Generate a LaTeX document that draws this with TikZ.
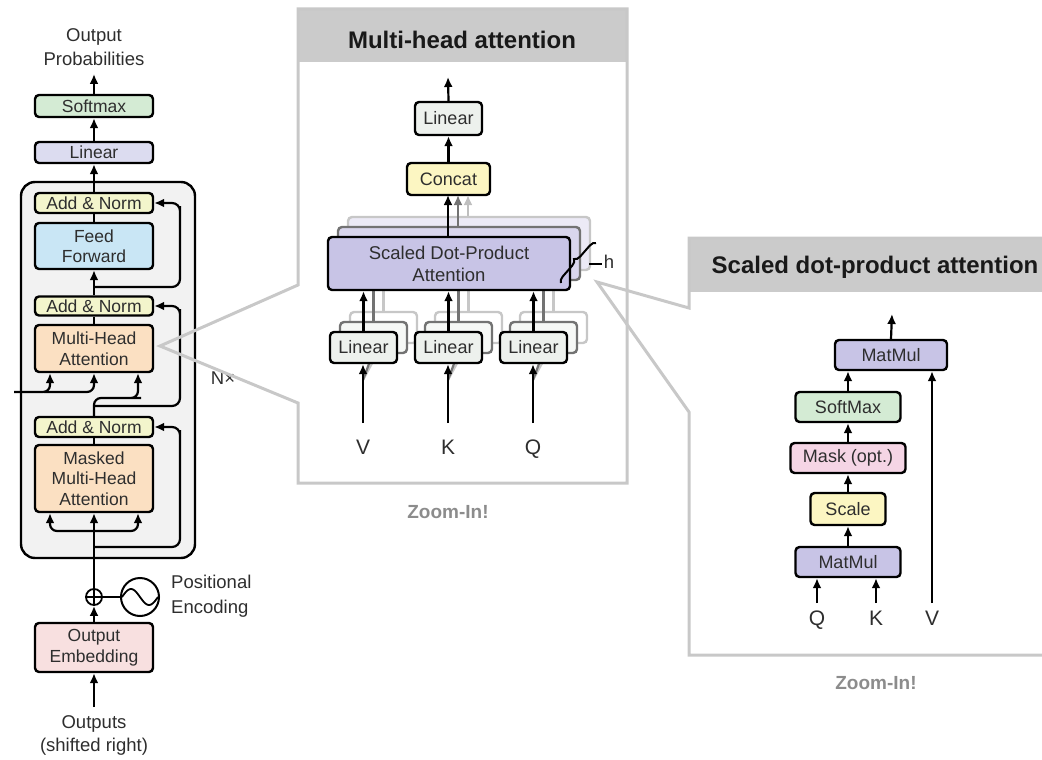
\documentclass[tikz,border=0pt]{standalone}
\usepackage{fontspec}
\setmainfont{Liberation Sans}
\usetikzlibrary{arrows.meta,calc,decorations.pathreplacing}

\definecolor{txt}{HTML}{2E2E2E}
\definecolor{smgreen}{HTML}{D4EBD4}
\definecolor{linlav}{HTML}{DCDCF0}
\definecolor{anyellow}{HTML}{F3F5CC}
\definecolor{ffblue}{HTML}{C9E6F5}
\definecolor{attpeach}{HTML}{FBE0C2}
\definecolor{embpink}{HTML}{F8E0E0}
\definecolor{sdpalav}{HTML}{C8C4E6}
\definecolor{linmint}{HTML}{EDF1ED}
\definecolor{catyellow}{HTML}{FCF6C2}
\definecolor{maskpink}{HTML}{F5D5E5}
\definecolor{stackbg}{HTML}{F2F2F2}
\definecolor{framegray}{HTML}{C8C8C8}
\definecolor{headgray}{HTML}{CBCBCB}
\definecolor{zoomgray}{HTML}{8C8C8C}

\tikzset{
  blk/.style={draw=black, line width=2.4pt, rounded corners=4pt, inner sep=0pt,
    align=center, text=txt, font=\fontsize{17.5}{20.5}\selectfont},
  blkm/.style={blk, font=\fontsize{18}{21}\selectfont},
  arr/.style={-{Latex[length=10pt,width=9pt]}, line width=2.2pt},
  ln/.style={line width=2.2pt},
  lbl/.style={text=txt, inner sep=0pt, align=center, font=\fontsize{18.5}{24}\selectfont},
  qkv/.style={text=txt, inner sep=0pt, text height=15pt, text depth=0pt, font=\fontsize{21}{24}\selectfont},
  zframe/.style={draw=framegray, line width=3pt, line join=miter},
  ttl/.style={text=black!90, inner sep=0pt, font=\fontsize{24}{28}\selectfont\bfseries},
  zoomlbl/.style={text=zoomgray, inner sep=0pt, font=\fontsize{19}{22}\selectfont\bfseries},
}

\begin{document}
\begin{tikzpicture}[x=1pt,y=-1pt]
\useasboundingbox (0,0) rectangle (1042,760);

% ---------------- decoder column ----------------
\node[draw=black, line width=2.4pt, fill=stackbg, rounded corners=14pt,
      minimum width=174pt, minimum height=376pt, inner sep=0pt] (dec) at (108,370) {};

\node[lbl] (outp) at (94,47) {Output\\Probabilities};
\coordinate (outtip) at (94,74);
\node[blk, fill=smgreen, minimum width=118pt, minimum height=22pt] (sm) at (94,106) {Softmax};
\node[blk, fill=linlav, minimum width=118pt, minimum height=21pt] (lin) at (94,152.5) {Linear};

\node[blk, fill=anyellow, minimum width=118pt, minimum height=20pt] (an1) at (94,203) {Add \& Norm};
\node[blk, fill=ffblue, minimum width=118pt, minimum height=46pt] (ff) at (94,246) {Feed\\Forward};
\node[blk, fill=anyellow, minimum width=118pt, minimum height=19pt] (an2) at (94,306) {Add \& Norm};
\node[blk, fill=attpeach, minimum width=118pt, minimum height=47pt] (mha) at (94,348.5) {Multi-Head\\Attention};
\node[blk, fill=anyellow, minimum width=118pt, minimum height=20pt] (an3) at (94,427) {Add \& Norm};
\node[blk, fill=attpeach, minimum width=118pt, minimum height=67pt] (mmha) at (94,478.5) {Masked\\Multi-Head\\Attention};

\node[circle, draw=black, line width=1.8pt, minimum size=16pt, inner sep=0pt] (plus) at (94,597) {};
\node[circle, draw=black, line width=2pt, minimum size=38pt, inner sep=0pt] (pe) at (140,597) {};
\node[blk, fill=embpink, minimum width=118pt, minimum height=49pt] (emb) at (94,647.5) {Output\\Embedding};
\node[lbl, anchor=west, align=left, font=\fontsize{18.5}{25}\selectfont] (pelbl) at (171,596) {Positional\\Encoding};
\node[lbl, font=\fontsize{18.5}{23}\selectfont] (outs) at (94,735) {Outputs\\(shifted right)};
\coordinate (outsin) at (94,707);
\node[lbl] (nx) at (223,378) {N×};

% plus sign and sine wave
\draw[line width=1.6pt] (plus.north) -- (plus.south) (plus.west) -- (plus.east);
\draw[line width=1.8pt] plot[domain=-18:18, samples=40] ({140+\x}, {597+8*sin(\x*10)});
\draw[ln] (plus.east) -- (pe.west);

% main data path
\draw[arr] (outsin) -- (emb.south);
\draw[arr] (emb.north) -- (plus.south);
\draw[arr] (plus.north) -- (mmha.south);
\draw[ln] (mmha.north) -- (an3.south);
\draw[ln] (mha.north) -- (an2.south);
\draw[arr] (an2.north) -- (ff.south);
\draw[ln] (ff.north) -- (an1.south);
\draw[arr] (an1.north) -- (lin.south);
\draw[arr] (lin.north) -- (sm.south);
\draw[arr] (sm.north) -- (outtip);

% masked attention inputs
\coordinate (msplit) at (94,531);
\draw[arr, rounded corners=7pt] (msplit) -| ($(mmha.south)+(-44,0)$);
\draw[arr, rounded corners=7pt] (msplit) -| ($(mmha.south)+(44,0)$);

% attention inputs: encoder (left) and decoder (right)
\coordinate (encin) at (14,392);
\draw[arr, rounded corners=7pt] (encin) -| ($(mha.south)+(-44,0)$);
\draw[arr, rounded corners=7pt] ($(encin)+(30,0)$) -| (mha.south);
\draw[arr, rounded corners=7pt] (an3.north) |- (134,398) -| ($(mha.south)+(44,0)$);

% residual connections
\coordinate (r1) at (94,287);
\coordinate (r2) at (94,406);
\coordinate (r3) at (94,547);
\draw[arr, rounded corners=8pt] (r1) -| (180,214) |- (an1.east);
\draw[arr, rounded corners=8pt] (r2) -| (180,317) |- (an2.east);
\draw[arr, rounded corners=8pt] (r3) -| (180,438) |- (an3.east);

% ---------------- multi-head attention panel ----------------
\fill[headgray] (298,9) rectangle (627,62);
\coordinate (zoomA) at (160,346);
\draw[zframe] (298,9) -- (627,9) -- (627,483) -- (298,483) -- (298,403) -- (zoomA) -- (298,285) -- cycle;
\node[ttl] (mhtitle) at (462,40) {Multi-head attention};
\node[zoomlbl] (zoom1) at (448,512) {Zoom-In!};

\coordinate (vsplit) at (363,380);
\coordinate (ksplit) at (448,380);
\coordinate (qsplit) at (533,380);

% stacked copies of the heads
\foreach \k/\dc/\fs/\fl in {2/black!22/sdpalav!35/white, 1/black!55/sdpalav!70/linmint!50}{
  \node[blk, draw=\dc, fill=\fs, minimum width=242pt, minimum height=53pt] (sd\k) at ({449+10*\k},{263.5-10*\k}) {};
  \foreach \n/\x in {v/363, k/448, q/533}{
    \draw[ln, draw=\dc] (\n split) -- ({\x+10*\k},{363-10*\k});
    \node[blk, draw=\dc, fill=\fl, minimum width=67pt, minimum height=31pt] (l\n\k) at ({\x+0.5+10*\k},{347.5-10*\k}) {};
    \draw[ln, draw=\dc] (l\n\k.north) -- (l\n\k.north |- sd\k.south);
  }
}

% front head
\node[blk, fill=sdpalav, minimum width=242pt, minimum height=53pt, font=\fontsize{18.5}{22}\selectfont] (sd0) at (449,263.5) {Scaled Dot-Product\\Attention};
\node[blkm, fill=linmint, minimum width=67pt, minimum height=31pt] (lv0) at (363.5,347.5) {Linear};
\node[blkm, fill=linmint, minimum width=67pt, minimum height=31pt] (lk0) at (448.5,347.5) {Linear};
\node[blkm, fill=linmint, minimum width=67pt, minimum height=31pt] (lq0) at (533.5,347.5) {Linear};
\draw[arr] (lv0.north) -- (lv0.north |- sd0.south);
\draw[arr] (lk0.north) -- (lk0.north |- sd0.south);
\draw[arr] (lq0.north) -- (lq0.north |- sd0.south);

\coordinate (vin) at (363,423);
\coordinate (kin) at (448,423);
\coordinate (qin) at (533,423);
\draw[arr] (vin) -- (vin |- lv0.south);
\draw[arr] (kin) -- (kin |- lk0.south);
\draw[arr] (qin) -- (qin |- lq0.south);
\node[qkv] (vl) at (363,447) {V};
\node[qkv] (kl) at (448,447) {K};
\node[qkv] (ql) at (533,447) {Q};

\node[blkm, fill=catyellow, minimum width=83pt, minimum height=32pt] (cat) at (448.5,179) {Concat};
\node[blkm, fill=linmint, minimum width=67pt, minimum height=33pt] (lin2) at (448.5,118.5) {Linear};
\coordinate (mhout) at (448,77);
\coordinate (c0) at (448,195);
\coordinate (c1) at (458,195);
\coordinate (c2) at (468,195);
\draw[arr, draw=black!25] (c2 |- sd2.north) -- (c2);
\draw[arr, draw=black!55] (c1 |- sd1.north) -- (c1);
\draw[arr] (c0 |- sd0.north) -- (c0);
\draw[arr] (cat.north) -- (lin2.south);
\draw[arr] (lin2.north) -- (mhout);

% number of heads
\draw[line width=2pt, decorate, decoration={brace, amplitude=6pt}] (561,283) -- (596,243);
\draw[line width=1.5pt] (589,264) -- (602,264);
\node[lbl] (hl) at (609,262) {h};

% ---------------- scaled dot-product attention panel ----------------
\fill[headgray] (689,238) rectangle (1042,292);
\coordinate (zoomB) at (597,282);
\draw[zframe] (1042,238) -- (689,238) -- (689,308) -- (zoomB) -- (689,412) -- (689,655) -- (1042,655);
\node[ttl] (sdtitle) at (875,267) {Scaled dot-product attention};
\node[zoomlbl] (zoom2) at (876,683) {Zoom-In!};

\node[blkm, fill=sdpalav, minimum width=112pt, minimum height=30pt] (mm2) at (891,355) {MatMul};
\node[blkm, fill=smgreen, minimum width=105pt, minimum height=30pt] (smx) at (848,407) {SoftMax};
\node[blkm, fill=maskpink, minimum width=115pt, minimum height=30pt] (mask) at (848,458) {Mask (opt.)};
\node[blkm, fill=catyellow, minimum width=75pt, minimum height=32pt] (scale) at (848,509) {Scale};
\node[blkm, fill=sdpalav, minimum width=105pt, minimum height=30pt] (mm1) at (848,562) {MatMul};

\draw[arr] (mm1.north) -- (scale.south);
\draw[arr] (scale.north) -- (mask.south);
\draw[arr] (mask.north) -- (smx.south);
\draw[arr] (smx.north) -- (smx.north |- mm2.south);
\coordinate (sdout) at (892,314);
\draw[arr] (mm2.north) -- (sdout);

\coordinate (qin2) at (817,603);
\coordinate (kin2) at (876,603);
\coordinate (vin2) at (932,603);
\draw[arr] (qin2) -- (qin2 |- mm1.south);
\draw[arr] (kin2) -- (kin2 |- mm1.south);
\draw[arr] (vin2) -- (vin2 |- mm2.south);
\node[qkv] (ql2) at (817,618) {Q};
\node[qkv] (kl2) at (876,618) {K};
\node[qkv] (vl2) at (932,618) {V};
\end{tikzpicture}
\end{document}
